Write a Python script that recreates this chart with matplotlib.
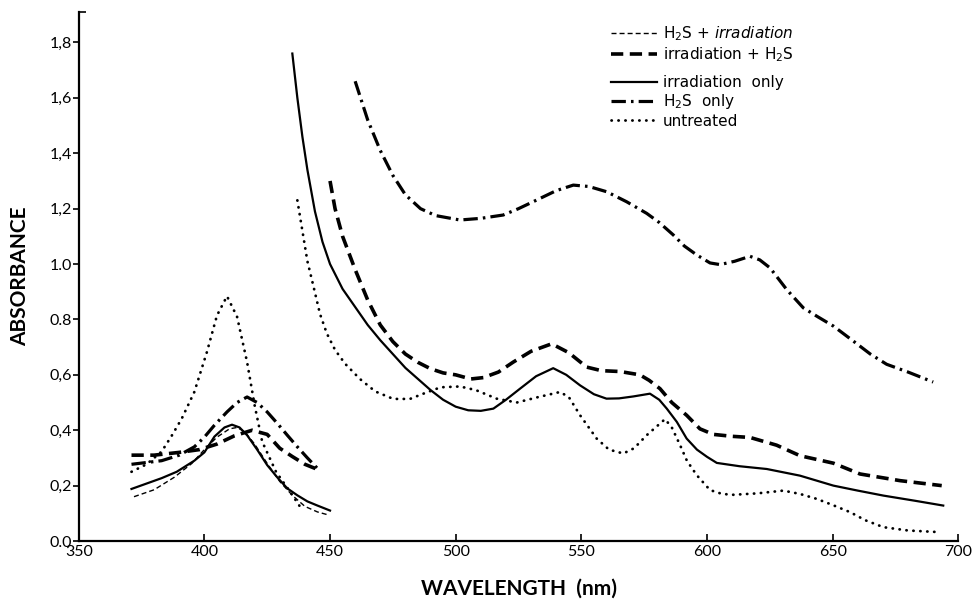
import matplotlib
matplotlib.use("Agg")
import matplotlib.pyplot as plt
from matplotlib.lines import Line2D

plt.rcParams['font.family'] = ['Lato', 'DejaVu Sans']
plt.rcParams['mathtext.fontset'] = 'custom'
plt.rcParams['mathtext.rm'] = 'DejaVu Sans'
plt.rcParams['mathtext.it'] = 'DejaVu Sans:italic'

# ---- data (wavelength nm, absorbance) ----
# H2S + irradiation (thin dashed) - Soret region only
h2s_irr_wl = [372, 380, 388, 395, 400, 405, 410, 413, 416, 420, 425, 430, 435, 440, 445, 449]
h2s_irr_ab = [0.16, 0.185, 0.23, 0.28, 0.33, 0.375, 0.405, 0.41, 0.395, 0.35, 0.28, 0.215, 0.165, 0.125, 0.105, 0.095]

# irradiation + H2S (heavy dashed)
irr_h2s_l_wl = [371, 380, 390, 398, 405, 412, 419, 425, 430, 435, 440, 446]
irr_h2s_l_ab = [0.31, 0.31, 0.32, 0.33, 0.35, 0.38, 0.40, 0.385, 0.335, 0.305, 0.277, 0.255]
irr_h2s_r_wl = [450, 452, 455, 460, 465, 470, 475, 480, 485, 490, 495, 500, 506, 511, 517, 522.9, 530,
                538.2, 545, 552.1, 558, 565.4, 573.3, 577, 581.3, 586, 591.9, 597.2, 602.5, 610,
                617.1, 627.7, 637, 650.3, 660.9, 676.8, 693.4]
irr_h2s_r_ab = [1.30, 1.20, 1.10, 0.98, 0.87, 0.78, 0.72, 0.675, 0.645, 0.622, 0.607, 0.60, 0.585, 0.59, 0.61, 0.646, 0.685,
                0.712, 0.68, 0.628, 0.615, 0.612, 0.60, 0.58, 0.55, 0.50, 0.454, 0.405, 0.385, 0.378,
                0.374, 0.346, 0.308, 0.281, 0.242, 0.218, 0.20]

# irradiation only (solid)
irr_l_wl = [371, 383, 389, 396, 400, 404, 408, 411, 414, 417, 421, 425, 429, 433, 437, 441, 445, 450]
irr_l_ab = [0.188, 0.227, 0.25, 0.29, 0.32, 0.377, 0.41, 0.42, 0.41, 0.382, 0.33, 0.274, 0.23, 0.19, 0.165, 0.143, 0.128, 0.11]
irr_r_wl = [435, 437, 439, 441, 444, 447, 450, 455, 460, 465, 470, 475, 480, 485, 490, 495, 500, 505, 510,
            515, 520, 525.6, 532, 538.8, 544, 549.5, 555, 560, 565, 570.7, 577.3, 581, 584, 588, 591.9, 596,
            600, 603.9, 613, 623.8, 637, 650.3, 660, 670.2, 683, 694]
irr_r_ab = [1.76, 1.60, 1.46, 1.34, 1.19, 1.08, 1.00, 0.91, 0.845, 0.78, 0.725, 0.675, 0.625, 0.585, 0.545, 0.51, 0.485, 0.472, 0.47,
            0.478, 0.51, 0.55, 0.595, 0.624, 0.60, 0.562, 0.53, 0.514, 0.515, 0.522, 0.532, 0.51, 0.478, 0.43, 0.37, 0.33,
            0.304, 0.282, 0.27, 0.26, 0.236, 0.20, 0.182, 0.164, 0.145, 0.128]

# H2S only (dash-dot)
h2s_l_wl = [371, 383, 390, 396, 400, 404, 409, 413, 417, 421, 425, 429, 433, 437, 441, 445]
h2s_l_ab = [0.277, 0.29, 0.31, 0.34, 0.375, 0.418, 0.466, 0.50, 0.52, 0.50, 0.466, 0.425, 0.382, 0.34, 0.30, 0.262]
h2s_r_wl = [460, 465, 470, 475, 480, 486, 492, 501.7, 510, 518.9, 525, 532.2, 540, 546.8, 553, 560.1, 568,
            576, 581, 586.6, 591, 595.9, 601.2, 605.2, 611, 617.1, 621, 625.1, 631.7, 638.3, 644, 650.3,
            658.2, 665, 671.5, 680, 690]
h2s_r_ab = [1.66, 1.52, 1.41, 1.32, 1.25, 1.20, 1.175, 1.159, 1.165, 1.177, 1.20, 1.231, 1.265, 1.285, 1.28, 1.261, 1.225,
            1.183, 1.15, 1.105, 1.065, 1.033, 1.004, 0.998, 1.01, 1.028, 1.015, 0.986, 0.908, 0.842, 0.81, 0.776,
            0.722, 0.675, 0.638, 0.61, 0.574]

# untreated (dotted)
unt_l_wl = [371, 377, 383, 387, 391, 396, 401, 405, 409, 413, 417, 420, 423, 428.5, 434, 438]
unt_l_ab = [0.25, 0.277, 0.323, 0.38, 0.442, 0.538, 0.682, 0.814, 0.884, 0.81, 0.646, 0.49, 0.359, 0.25, 0.179, 0.125]
unt_r_wl = [437, 439, 441, 443.4, 446, 448.7, 452, 456, 461.9, 468, 475.2, 481.8, 488, 494, 501.7, 508, 516.3, 524.3, 533,
            541.5, 545, 549.5, 556.1, 561, 566.7, 571, 576, 583.3, 586, 589.3, 592, 595.9, 601.2, 606,
            610.5, 620, 630.4, 637, 643.7, 650, 657, 663, 670.2, 680, 692.7]
unt_r_ab = [1.23, 1.12, 1.01, 0.92, 0.82, 0.75, 0.69, 0.64, 0.585, 0.54, 0.513, 0.513, 0.535, 0.555, 0.558, 0.545, 0.514, 0.50, 0.52,
            0.538, 0.52, 0.454, 0.37, 0.33, 0.316, 0.335, 0.382, 0.44, 0.41, 0.346, 0.29, 0.238, 0.184, 0.17,
            0.167, 0.172, 0.182, 0.17, 0.152, 0.13, 0.104, 0.075, 0.05, 0.038, 0.032]

x_ticks = [350, 400, 450, 500, 550, 600, 650, 700]
y_ticks = [0.0, 0.2, 0.4, 0.6, 0.8, 1.0, 1.2, 1.4, 1.6, 1.8]
y_tick_labels = ['0.0', '0,2', '0,4', '0,6', '0.8', '1.0', '1,2', '1,4', '1,6', '1,8']

labels = ['H$_2$S + $\\it{irradiation}$', 'irradiation + H$_2$S', 'irradiation  only',
          'H$_2$S  only', 'untreated']

# ---- styles ----
st_thin = dict(color='black', lw=1.0, linestyle=(0, (3.6, 2.2)))
st_heavy = dict(color='black', lw=2.6, linestyle=(0, (3.4, 1.8)))
st_solid = dict(color='black', lw=1.6, linestyle='-')
st_dd = dict(color='black', lw=2.3, linestyle=(0, (4.5, 1.6, 0.8, 1.6)))
st_dot = dict(color='black', lw=2.0, linestyle=(0, (0.1, 2.4)), dash_capstyle='round')

fig = plt.figure(figsize=(9.73, 6.0), dpi=100)
ax = fig.add_axes([0.0809, 0.0983, 0.904, 0.8817])

ax.plot(h2s_irr_wl, h2s_irr_ab, **st_thin)
ax.plot(irr_h2s_l_wl, irr_h2s_l_ab, **st_heavy)
ax.plot(irr_h2s_r_wl, irr_h2s_r_ab, **st_heavy)
ax.plot(irr_l_wl, irr_l_ab, **st_solid)
ax.plot(irr_r_wl, irr_r_ab, **st_solid)
ax.plot(h2s_l_wl, h2s_l_ab, **st_dd)
ax.plot(h2s_r_wl, h2s_r_ab, **st_dd)
ax.plot(unt_l_wl, unt_l_ab, **st_dot)
ax.plot(unt_r_wl, unt_r_ab, **st_dot)

ax.set_xlim(350, 700)
ax.set_ylim(0, 1.91)
ax.spines['top'].set_visible(False)
ax.spines['right'].set_visible(False)
ax.spines['left'].set_linewidth(1.6)
ax.spines['bottom'].set_linewidth(1.6)
ax.set_xticks(x_ticks)
ax.set_xticklabels([str(v) for v in x_ticks], fontsize=11.5)
ax.set_yticks(y_ticks)
ax.set_yticklabels(y_tick_labels, fontsize=11.5)
ax.set_yticks([1.91], minor=True)
ax.tick_params(axis='both', which='both', direction='in', length=5, width=1.2, pad=3)
ax.tick_params(axis='y', which='major', direction='out', length=4, pad=1)

ax.set_xlabel('WAVELENGTH  (nm)', fontsize=15, fontweight='bold', labelpad=14)
ax.set_ylabel('ABSORBANCE', fontsize=15, fontweight='bold', labelpad=14)

leg_font = {'family': 'DejaVu Sans', 'size': 11}
h1 = [Line2D([], [], **st_thin), Line2D([], [], **st_heavy)]
h2 = [Line2D([], [], **st_solid), Line2D([], [], **st_dd), Line2D([], [], **st_dot)]
leg1 = fig.legend(h1, labels[:2], loc='upper left', bbox_to_anchor=(0.628, 0.96),
                  frameon=False, prop=leg_font, handlelength=3.0, handletextpad=0.4,
                  labelspacing=0.15, borderpad=0, borderaxespad=0)
leg2 = fig.legend(h2, labels[2:], loc='upper left', bbox_to_anchor=(0.628, 0.875),
                  frameon=False, prop=leg_font, handlelength=3.0, handletextpad=0.4,
                  labelspacing=0.15, borderpad=0, borderaxespad=0)

fig.savefig('out.png', dpi=100)
